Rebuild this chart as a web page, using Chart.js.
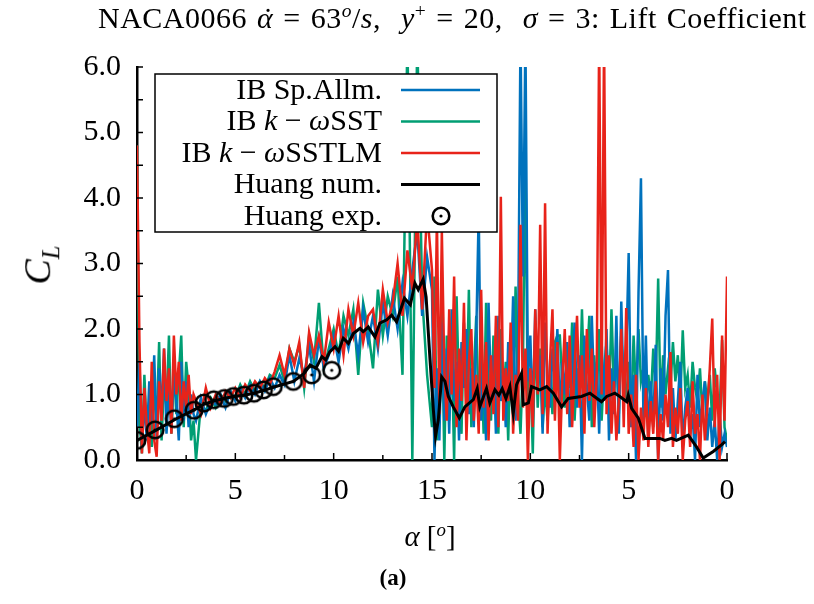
<!DOCTYPE html>
<html>
<head>
<meta charset="utf-8">
<script src="https://cdn.jsdelivr.net/npm/chart.js@4.4.0/dist/chart.umd.min.js"></script>
<style>
  body { margin: 0; background: #fff; }
  #wrap { position: relative; width: 814px; height: 604px; font-family: "Liberation Serif", serif; color: #000; }
  #cl { position: absolute; }
  .lbl { position: absolute; white-space: nowrap; }
  #title { left: 98px; top: 0px; font-size: 30px; letter-spacing: 0.5px; word-spacing: 2px; }
  #ylab { left: 40px; top: 265px; font-size: 38px; transform: translate(-50%, -50%) rotate(-90deg); }
  #xlab { left: 430px; top: 536px; font-size: 29px; transform: translate(-50%, -50%); }
  #cap { left: 393px; top: 578px; font-size: 23px; font-weight: bold; transform: translate(-50%, -50%); }
  .acc { position: relative; }
  .dot { position: absolute; left: 0.2em; top: 0.02em; font-style: normal; }
  sup { font-size: 65%; }
  sub { font-size: 65%; }
</style>
</head>
<body>
<div id="wrap">
  <canvas id="cl" width="814" height="604"></canvas>
  <div class="lbl" id="title">NACA0066 <span class="acc"><i>α</i><span class="dot">˙</span></span> = 63<sup><i>o</i></sup>/<i>s</i>,&nbsp; <i>y</i><sup>+</sup> = 20,&nbsp; <i>σ</i> = 3: Lift Coefficient</div>
  <div class="lbl" id="ylab"><i>C</i><sub><i>L</i></sub></div>
  <div class="lbl" id="xlab"><i>α</i> [<sup><i>o</i></sup>]</div>
  <div class="lbl" id="cap">(a)</div>
</div>
<script>
// x runs 0 -> 15 (pitch up) then 15 -> 30 (pitch down, labelled 15 -> 0)
const xs = [0,0.125,0.25,0.375,0.5,0.625,0.75,0.875,1,1.125,1.25,1.375,1.5,1.625,1.75,1.875,2,2.125,2.25,2.375,2.5,2.625,2.75,2.875,
  3,3.25,3.5,3.75,4,4.25,4.5,4.75,5,5.25,5.5,5.75,6,6.25,6.5,6.75,7,7.25,7.5,7.75,8,8.25,8.5,8.75,
  9,9.25,9.5,9.75,10,10.25,10.5,10.75,11,11.25,11.5,11.75,12,12.25,12.5,12.75,13,13.25,13.5,13.75,14,14.25,14.5,14.75,
  15,15.125,15.25,15.375,15.5,15.625,15.75,15.875,16,16.125,16.25,16.375,16.5,16.625,16.75,16.875,
  17,17.125,17.25,17.375,17.5,17.625,17.75,17.875,18,18.125,18.25,18.375,18.5,18.625,18.75,18.875,
  19,19.125,19.25,19.375,19.5,19.625,19.75,19.875,20,20.125,20.25,20.375,20.5,20.625,20.75,20.875,
  21,21.125,21.25,21.375,21.5,21.625,21.75,21.875,22,22.125,22.25,22.375,22.5,22.625,22.75,22.875,
  23,23.125,23.25,23.375,23.5,23.625,23.75,23.875,24,24.125,24.25,24.375,24.5,24.625,24.75,24.875,
  25,25.125,25.25,25.375,25.5,25.625,25.75,25.875,26,26.125,26.25,26.375,26.5,26.625,26.75,26.875,
  27,27.125,27.25,27.375,27.5,27.625,27.75,27.875,28,28.125,28.25,28.375,28.5,28.625,28.75,28.875,
  29,29.125,29.25,29.375,29.5,29.625,29.75,29.875,30];

const spAllm = [0.5,1.5,0.2,0.9,0.3,1.2,0.6,1.6, 0.3,1.4,0.7,1.7,0.4,1.1,0.5,1.3, 0.9,0.3,1.5,0.6,1.2,0.5,1.0,0.7,
  0.6,0.95,0.7,0.9, 0.85,1.0,0.8,1.05, 0.9,1.1,0.95,1.15, 1.0,1.2,1.05,1.25, 1.1,1.3,1.15,1.6, 1.2,1.55,1.3,1.75,
  1.2,1.85,1.4,1.6, 1.9,1.5,2.0,1.7, 2.1,1.6,2.3,1.8, 2.2,1.7,2.4,1.9, 2.5,2.0,2.7,2.2, 2.9,3.5,2.2,3.1,
  2.6,0.0,1.4,0.3,2.1,0.6,1.7,0.4, 2.3,0.9,1.5,0.3,1.8,1.1,2.0,0.7,
  1.4,0.5,1.9,3.8,0.6,1.2,0.3,2.4, 1.0,1.6,0.4,2.2,0.9,1.4,0.5,1.8,
  1.1,2.5,0.6,1.7,6.5,2.8,6.5,1.2, 1.9,0.6,2.3,1.1,1.6,0.4,2.1,1.3,
  0.8,1.7,1.2,2.0,0.7,1.5,1.0,1.8, 0.5,1.3,2.1,0.8,1.6,0.0,1.9,1.1,
  0.6,2.2,1.0,1.5,0.4,1.8,0.9,2.0, 0.3,1.4,0.7,2.2,0.4,2.42,0.9,1.6,
  3.16,0.5,1.3,0.0,2.55,4.3,0.6,1.9, 0.3,1.2,0.5,1.76,0.0,1.4,0.6,2.2,
  2.9,0.4,1.1,0.3,0.9,1.5,0.2,0.8, 1.1,0.4,0.7,0.0,1.3,0.5,0.9,1.2,
  0.3,0.8,0.2,0.6,0.0,0.7,0.2,0.4, 0.2];

const sst = [4.8,0.6,0.1,1.3,0.4,0.9,0.2,1.1, 0.6,1.8,0.3,1.2,0.8,1.9,0.4,1.4, 0.7,1.3,1.9,0.5,1.5,1.1,0.3,0.6,
  0.0,0.85,0.75,0.95, 0.8,1.0,0.9,1.05, 0.95,1.15,1.0,1.2, 1.05,1.2,1.1,1.3, 1.25,1.45,1.2,1.7, 1.5,1.75,1.1,1.9,
  1.5,2.4,1.4,1.7, 2.0,1.6,2.2,1.9, 2.3,1.3,2.4,2.0, 1.4,2.6,1.9,2.5, 2.2,2.8,1.3,6.5, 0.0,6.5,2.5,1.3,
  0.5,2.8,0.3,1.5,2.4,0.0,1.9,0.6, 1.8,0.0,2.5,1.0,0.4,2.1,0.8,2.6,
  0.5,1.3,2.2,0.7,1.6,0.4,2.4,1.1, 0.6,1.9,1.2,0.4,2.0,0.9,1.5,0.3,
  1.8,0.7,2.65,1.0,0.4,1.5,4.7,0.6, 1.4,0.1,2.0,0.8,1.7,0.5,1.1,0.6,
  1.3,0.7,1.8,1.9,1.9,1.2,0.8,1.6, 1.1,2.1,0.6,1.4,0.9,2.3,1.0,1.5,
  2.2,0.5,1.6,0.9,2.0,0.6,1.4,1.8, 0.8,2.3,1.1,1.6,0.7,1.9,1.2,0.9,
  1.5,0.6,1.9,1.0,2.0,1.2,1.4,0.8, 1.3,0.9,1.7,1.1,2.77,0.8,1.6,1.0,
  1.4,1.1,1.8,1.2,1.6,0.9,1.98,1.1, 1.3,0.8,1.5,1.1,0.9,1.4,0.7,1.2,
  0.9,1.3,0.6,1.4,1.0,0.7,1.83,0.5, 0.3];

const sstlm = [4.8,1.8,0.1,1.1,0.5,0.1,1.5,0.3, 0.05,1.2,0.6,1.7,0.9,1.4,0.4,1.9, 1.0,1.5,0.6,1.2,0.8,1.3,0.7,1.0,
  0.9,0.7,1.1,0.8, 1.0,0.85,1.05,0.95, 1.1,0.95,1.15,1.05, 1.2,1.1,1.25,1.15, 1.35,1.6,1.3,1.7, 1.45,1.8,1.1,1.95,
  1.6,1.9,1.5,2.1, 1.7,2.2,1.6,2.3, 1.9,2.4,1.8,2.2, 2.3,1.8,2.6,2.1, 2.4,3.0,2.2,3.2, 2.6,3.7,2.3,3.8,
  2.9,1.1,3.7,0.7,3.5,1.4,0.6,2.3, 1.0,2.8,0.5,1.7,0.9,2.4,0.3,1.5,
  2.0,0.6,1.3,0.4,2.6,0.8,1.8,0.3, 1.6,0.7,2.2,0.5,4.02,0.6,1.4,0.9,
  2.1,0.4,1.3,0.6,3.59,0.8,1.7,0.0, 1.4,0.5,2.3,1.0,3.59,0.7,3.92,0.4,
  1.5,2.3,0.6,1.8,0.0,1.2,2.0,0.7, 1.9,0.5,1.4,2.2,0.8,1.6,0.4,2.0,
  0.9,1.7,0.5,1.3,6.5,1.0,6.5,0.7, 1.6,0.4,1.2,0.3,0.9,2.0,0.5,2.32,
  0.4,1.0,0.2,1.3,0.0,0.8,0.3,1.1, 0.2,0.9,0.4,1.2,0.0,0.7,0.3,1.0,
  0.5,1.65,0.2,0.8,0.4,1.1,0.0,0.6, 0.9,0.2,1.2,0.4,0.7,0.0,1.0,0.3,
  0.8,1.4,2.16,0.5,1.3,0.0,1.9,0.6, 2.8];

const numX = [0,1,2,3,3.4,3.9,4.44,4.9,5.44,5.95,6.43,6.93,7.95,8.5,8.8,9.1,9.4,9.6,9.8,10.07,
  10.25,10.49,10.75,11.0,11.34,11.5,11.76,12.1,12.35,12.7,12.95,13.2,13.6,13.9,14.13,14.3,14.55,14.7,14.9,15.07,
  15.18,15.32,15.49,15.66,15.83,16.08,16.39,16.67,17.1,17.3,17.43,17.77,17.94,18.2,18.4,18.57,18.76,18.96,19.13,19.3,
  19.55,19.64,19.9,20.06,20.48,20.83,21.17,21.59,21.93,22.6,23.03,23.62,23.88,24.3,24.55,24.9,24.98,25.15,25.49,25.83,
  26.59,26.84,27.18,27.43,28.03,28.45,28.79,29.3,29.72,29.9];
const numY = [0.30,0.46,0.63,0.78,0.85,0.90,0.94,0.97,0.99,1.02,1.06,1.11,1.20,1.32,1.45,1.40,1.58,1.53,1.65,1.73,
  1.66,1.86,1.78,1.93,2.01,1.96,2.03,1.88,2.09,2.14,2.21,2.11,2.47,2.37,2.70,2.60,2.76,2.49,1.53,0.76,
  0.36,0.61,1.27,1.20,0.97,0.81,0.64,0.81,0.92,1.09,0.81,1.09,0.87,1.07,0.99,1.09,0.94,1.12,0.71,1.15,
  1.32,0.84,0.87,1.12,1.07,1.12,1.02,0.81,0.94,0.97,1.02,0.89,0.97,1.02,0.97,0.89,0.99,0.79,0.64,0.33,
  0.33,0.30,0.33,0.30,0.38,0.20,0.03,0.13,0.23,0.28];

const expX = [0,0.92,1.9,2.9,3.4,3.9,4.44,4.9,5.44,5.95,6.43,6.93,7.95,8.88,9.9];
const expY = [0.30,0.46,0.63,0.76,0.87,0.92,0.94,0.97,0.99,1.02,1.07,1.12,1.20,1.30,1.37];

const xTicks = [0, 5, 10, 15, 10, 5, 0];

const BLUE = '#0072bd', GREEN = '#009e73', RED = '#e8231a';
const FONT = '"Liberation Serif", serif';

function pts(x, y) { return x.map((v, i) => ({ x: v, y: y[i] })); }

// open circle with a centre dot
const ring = document.createElement('canvas');
ring.width = 22; ring.height = 22;
(function () {
  const c = ring.getContext('2d');
  c.strokeStyle = '#000'; c.lineWidth = 2.6;
  c.beginPath(); c.arc(11, 11, 8.3, 0, Math.PI * 2); c.stroke();
  c.fillStyle = '#000';
  c.beginPath(); c.arc(11, 11, 1.6, 0, Math.PI * 2); c.fill();
})();

const legendRows = [
  { segs: [['IB Sp.Allm.', 0]], color: BLUE },
  { segs: [['IB ', 0], ['k', 1], [' \u2212 ', 0], ['\u03c9', 1], ['SST', 0]], color: GREEN },
  { segs: [['IB ', 0], ['k', 1], [' \u2212 ', 0], ['\u03c9', 1], ['SSTLM', 0]], color: RED },
  { segs: [['Huang num.', 0]], color: '#000' },
  { segs: [['Huang exp.', 0]], marker: true }
];

const frame = {
  id: 'frame',
  afterDraw(chart) {
    const ctx = chart.ctx;
    const sx = chart.scales.x, sy = chart.scales.y;
    const area = chart.chartArea;
    ctx.save();
    ctx.strokeStyle = '#000';
    ctx.lineWidth = 1.5;
    // inward ticks
    for (let v = 0; v <= 30; v += 2.5) {
      const px = sx.getPixelForValue(v);
      const len = v % 5 === 0 ? 7 : 5;
      ctx.beginPath(); ctx.moveTo(px, area.bottom); ctx.lineTo(px, area.bottom - len); ctx.stroke();
    }
    for (let v = 0; v <= 6; v += 0.5) {
      const py = sy.getPixelForValue(v);
      ctx.beginPath(); ctx.moveTo(area.left, py); ctx.lineTo(area.left + 6, py); ctx.stroke();
    }
    // legend box
    const L = 155, T = 74, R = 497, B = 232;
    ctx.fillStyle = '#fff';
    ctx.fillRect(L, T, R - L, B - T);
    ctx.strokeRect(L, T, R - L, B - T);
    ctx.textBaseline = 'middle';
    ctx.fillStyle = '#000';
    legendRows.forEach((row, i) => {
      const y = 90 + i * 31.5;
      let w = 0;
      row.segs.forEach(s => { ctx.font = (s[1] ? 'italic ' : '') + '30px ' + FONT; w += ctx.measureText(s[0]).width; });
      let x = 382 - w;
      row.segs.forEach(s => {
        ctx.font = (s[1] ? 'italic ' : '') + '30px ' + FONT;
        ctx.fillText(s[0], x, y + 1);
        x += ctx.measureText(s[0]).width;
      });
      if (row.marker) {
        ctx.drawImage(ring, 441 - 11, y - 11);
      } else {
        ctx.strokeStyle = row.color;
        ctx.lineWidth = row.color === '#000' ? 3 : 2.5;
        ctx.beginPath(); ctx.moveTo(401, y); ctx.lineTo(480, y); ctx.stroke();
      }
    });
    ctx.restore();
  }
};

new Chart(document.getElementById('cl'), {
  type: 'line',
  data: {
    datasets: [
      { label: 'IB Sp.Allm.', data: pts(xs, spAllm), borderColor: BLUE, borderWidth: 2.5, pointRadius: 0, order: 3 },
      { label: 'IB k-wSST', data: pts(xs, sst), borderColor: GREEN, borderWidth: 2.5, pointRadius: 0, order: 4 },
      { label: 'IB k-wSSTLM', data: pts(xs, sstlm), borderColor: RED, borderWidth: 2.5, pointRadius: 0, order: 2 },
      { label: 'Huang num.', data: pts(numX, numY), borderColor: '#000', borderWidth: 3, pointRadius: 0, order: 1 },
      { label: 'Huang exp.', data: pts(expX, expY), showLine: false, pointStyle: ring, pointRadius: 9, order: 0 }
    ]
  },
  options: {
    responsive: false,
    animation: false,
    events: [],
    layout: { padding: { left: 65, right: 87, top: 67, bottom: 84 } },
    plugins: { legend: { display: false }, tooltip: { enabled: false } },
    scales: {
      x: {
        type: 'linear', min: 0, max: 30,
        grid: { display: false, drawTicks: false },
        border: { display: true, color: '#000', width: 2.5 },
        ticks: {
          stepSize: 5, padding: 13, color: '#000', maxRotation: 0,
          font: { family: FONT, size: 30 },
          callback: (v) => xTicks[Math.round(v / 5)]
        },
        afterFit: (s) => { s.height = 60; }
      },
      y: {
        min: 0, max: 6,
        grid: { display: false, drawTicks: false },
        border: { display: true, color: '#000', width: 2.5 },
        ticks: {
          stepSize: 1, padding: 16, color: '#000',
          font: { family: FONT, size: 30 },
          callback: (v) => v.toFixed(1)
        },
        afterFit: (s) => { s.width = 72; }
      }
    }
  },
  plugins: [frame]
});
</script>
</body>
</html>
